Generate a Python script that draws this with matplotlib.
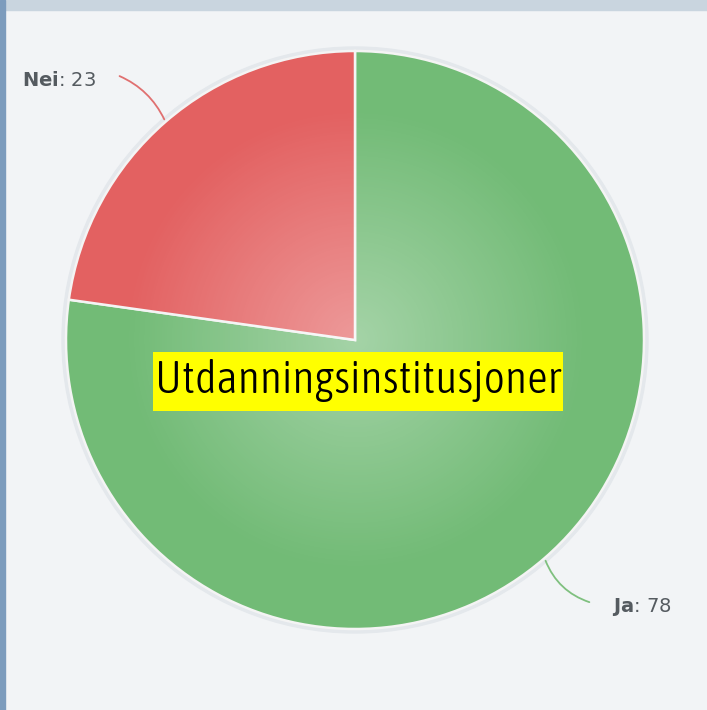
import numpy as np
import matplotlib.pyplot as plt
from matplotlib import font_manager
from matplotlib.patches import Circle, Rectangle

labels = ['Ja', 'Nei']
values = [78, 23]
colors = ['#72bb76', '#e36161']
line_colors = ['#7fc07f', '#e07070']
title = 'Utdanningsinstitusjoner'

W, H = 707, 710
fig = plt.figure(figsize=(W / 100, H / 100), dpi=100)
fig.patch.set_facecolor('#f2f4f6')
ax = fig.add_axes([0, 0, 1, 1])
ax.set_xlim(0, W)
ax.set_ylim(0, H)
ax.set_aspect('equal')
ax.axis('off')

# screenshot frame: bluish strips top and left
ax.add_patch(Rectangle((0, H - 10), W, 10, color='#c9d5df', zorder=0))
ax.add_patch(Rectangle((0, 0), 5, H, color='#7d9cbd', zorder=0))

cx, cy, r = 355, 370, 289

# faint halo around the pie
ax.add_patch(Circle((cx, cy), r + 4, color='#e4e8ec', zorder=1))

wedges, _ = ax.pie(values, colors=colors, startangle=90, counterclock=False,
                   center=(cx, cy), radius=r, frame=True,
                   wedgeprops=dict(edgecolor='#f4f4f4', linewidth=1.8))
for w in wedges:
    w.set_zorder(2)
ax.set_xlim(0, W)
ax.set_ylim(0, H)
ax.axis('off')

# soft radial highlight in the middle
yy, xx = np.mgrid[0:H, 0:W]
d = np.hypot(xx - cx, yy - cy) / r
alpha = np.clip(0.36 * (1 - d / 0.8), 0, None)
img = np.zeros((H, W, 4))
img[..., :3] = 1.0
img[..., 3] = alpha
im = ax.imshow(img, extent=(0, W, 0, H), origin='lower', zorder=3)
im.set_clip_path(Circle((cx, cy), r, transform=ax.transData))

# labels with curved connectors
ang = np.cumsum([0] + values)
tot = sum(values)
label_pos = [(612, 103), (22, 630)]
for i, (lab, val) in enumerate(zip(labels, values)):
    mid = 90 - 360 * (ang[i] + values[i] / 2) / tot
    px = cx + r * np.cos(np.radians(mid))
    py = cy + r * np.sin(np.radians(mid))
    tx, ty = label_pos[i]
    if i == 0:
        end = (tx - 20, ty + 4)
        cs = 'arc3,rad=-0.25'
    else:
        end = (tx + 95, ty + 5)
        cs = 'arc3,rad=-0.2'
    ax.annotate('', xy=(px, py), xytext=end,
                arrowprops=dict(arrowstyle='-', color=line_colors[i], lw=1.3,
                                connectionstyle=cs), zorder=4)
    ax.text(tx, ty, f'$\\bf{{{lab}}}$: {val}', fontsize=14, color='#555b60',
            va='center', ha='left', zorder=5)

# pick a light narrow font if one is installed, else Roboto light
def wt(f):
    w = f.weight
    return w if isinstance(w, (int, float)) else font_manager.weight_dict.get(w, 400)

narrow = [f for f in font_manager.fontManager.ttflist
          if ('Narrow' in f.name or 'Condensed' in f.name) and f.style == 'normal']
if narrow:
    best = min(narrow, key=lambda f: abs(wt(f) - 300))
    fp = font_manager.FontProperties(fname=best.fname)
else:
    fp = font_manager.FontProperties(family='Roboto', weight='light')

t = ax.text(358, 329, title, fontproperties=fp, fontsize=34,
            ha='center', va='center', color='black', zorder=6)
fig.canvas.draw()
tw = t.get_window_extent().width
t.set_fontsize(34 * 407 / tw)
fig.canvas.draw()
bb = t.get_window_extent().transformed(ax.transData.inverted())
ax.add_patch(Rectangle((bb.x0 - 2, 299), bb.width + 4, 59,
                       facecolor='#ffff00', edgecolor='none', zorder=5))

fig.savefig('out.png', dpi=100, facecolor=fig.get_facecolor())
